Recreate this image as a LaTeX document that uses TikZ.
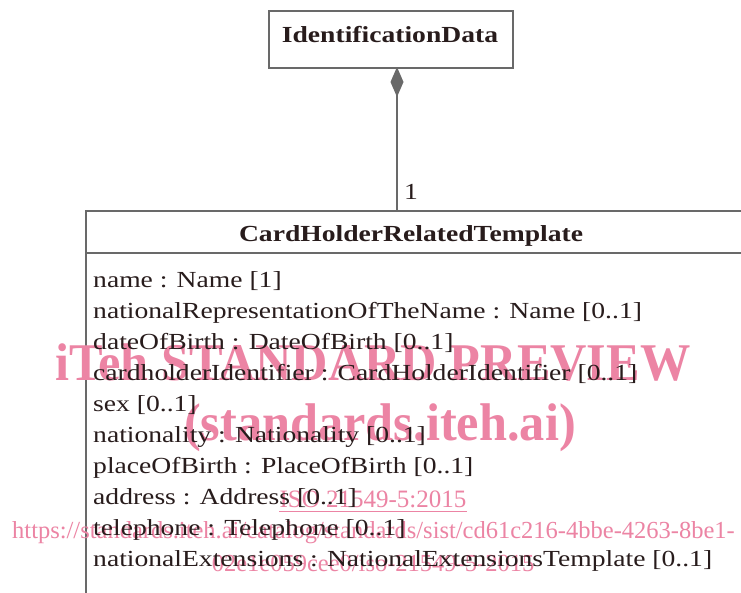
\documentclass[tikz,border=0pt]{standalone}
\usepackage{fontspec}
\setmainfont[FakeStretch=1.2]{Liberation Serif}
\newfontfamily\wmfont[FakeStretch=0.95]{Liberation Serif}
\newfontfamily\wmplain{Liberation Serif}
\usetikzlibrary{arrows.meta,calc}
\definecolor{boxgray}{RGB}{105,105,105}
\definecolor{ink}{RGB}{40,28,28}
\definecolor{wmpink}{RGB}{236,132,164}
\tikzset{
  umlbox/.style={draw=boxgray, line width=2.2pt, fill=white, inner sep=0pt},
  classname/.style={font=\fontsize{23}{26}\selectfont\bfseries, text=ink, inner sep=0pt, anchor=base},
  attr/.style={font=\fontsize{23}{26}\selectfont, text=ink, inner sep=0pt, anchor=base west},
  wmbig/.style={font=\wmfont\fontsize{53}{60}\selectfont\bfseries, text=wmpink, inner sep=0pt, anchor=base},
  wmsmall/.style={font=\wmplain\fontsize{24.5}{28}\selectfont, text=wmpink, inner sep=0pt, anchor=base},
  compose/.style={draw=boxgray, line width=2.2pt, {Diamond[length=30pt,width=13pt,fill=boxgray]}-},
}
\begin{document}
\begin{tikzpicture}[x=1pt,y=-1pt]
\useasboundingbox (0,0) rectangle (741,592);
\clip (0,0) rectangle (741,592);
\fill[white] (0,0) rectangle (741,592);

% classes
\node[umlbox, minimum width=244pt, minimum height=57pt, anchor=north west] (idd) at (268,10) {};
\node[classname] (iddname) at (390,42) {IdentificationData};

\node[umlbox, minimum width=670pt, minimum height=420pt, anchor=north west] (crt) at (85,210) {};
\coordinate (sepL) at (85,253);
\coordinate (sepR) at (760,253);
\draw[draw=boxgray, line width=2.2pt] (sepL) -- (sepR);
\node[classname] (crtname) at (411,241) {CardHolderRelatedTemplate};

% composition
\coordinate (compTop) at (397,67);
\coordinate (compBot) at (397,210);
\draw[compose] (compTop) -- (compBot);
\node[attr, anchor=base] (mult) at (411,199) {1};

% watermark
\node[wmbig] (wm1) at (373,380) {iTeh STANDARD PREVIEW};
\node[wmbig] (wm2) at (380,440) {(standards.iteh.ai)};
\node[wmsmall, font=\wmplain\fontsize{25}{28}\selectfont] (wm3) at (373,507) {ISO 21549-5:2015};
\draw[wmpink, line width=1pt] ($(wm3.base west)+(0,4)$) -- ($(wm3.base east)+(0,4)$);
\node[wmsmall] (wm4) at (373.5,538) {https://standards.iteh.ai/catalog/standards/sist/cd61c216-4bbe-4263-8be1-};
\node[wmsmall] (wm5) at (373,571) {02e1e059cee0/iso-21549-5-2015};

% attributes
\node[attr] (a1) at (93,287) {name : Name [1]};
\node[attr] (a2) at (93,318) {nationalRepresentationOfTheName : Name [0..1]};
\node[attr] (a3) at (93,349) {dateOfBirth : DateOfBirth [0..1]};
\node[attr] (a4) at (93,380) {cardholderIdentifier : CardHolderIdentifier [0..1]};
\node[attr] (a5) at (93,411) {sex [0..1]};
\node[attr] (a6) at (93,442) {nationality : Nationality [0..1]};
\node[attr] (a7) at (93,473) {placeOfBirth : PlaceOfBirth [0..1]};
\node[attr] (a8) at (93,504) {address : Address [0..1]};
\node[attr] (a9) at (93,535) {telephone : Telephone [0..1]};
\node[attr] (a10) at (93,566) {nationalExtensions : NationalExtensionsTemplate [0..1]};
\end{tikzpicture}
\end{document}
